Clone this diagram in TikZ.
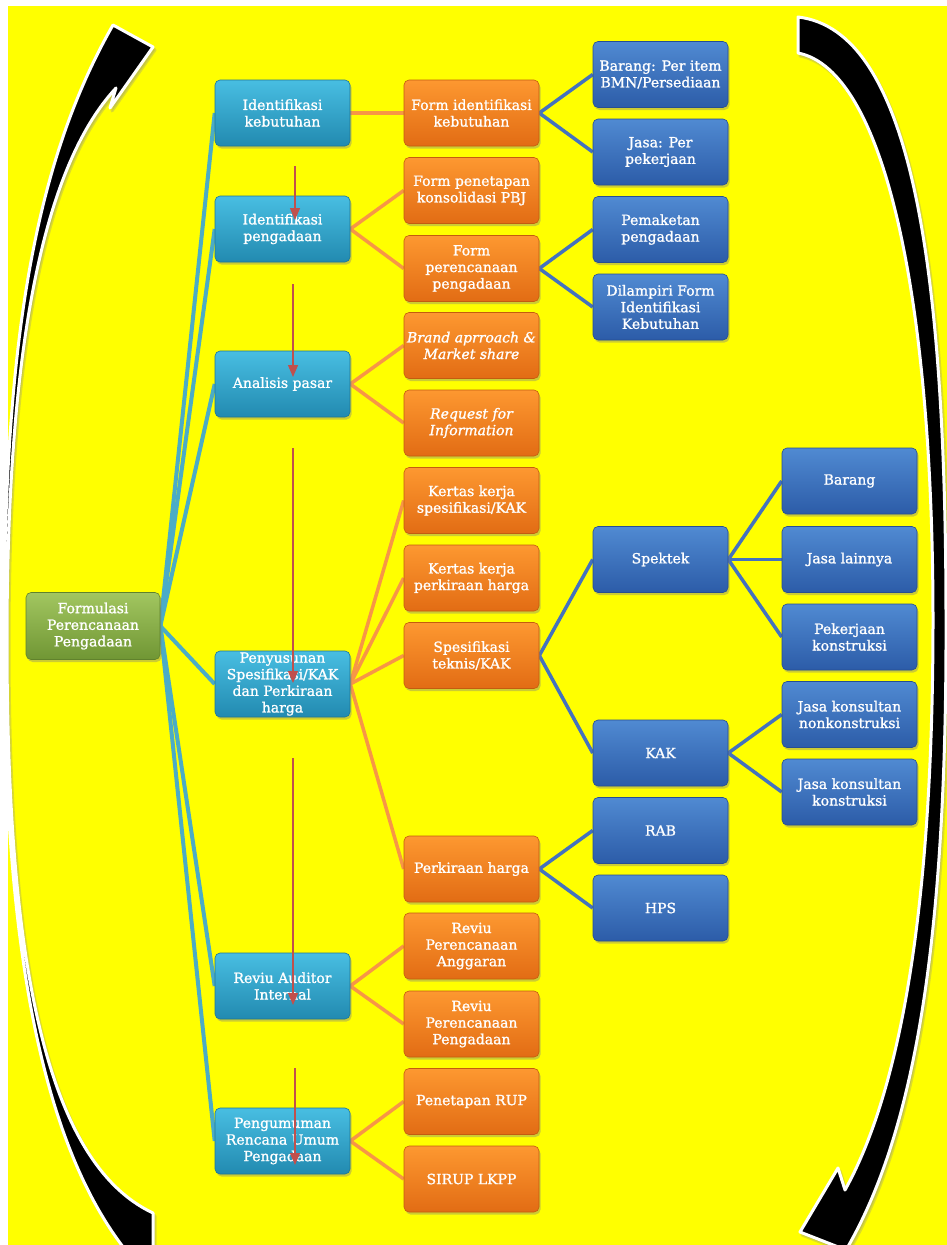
\documentclass[tikz,border=0pt]{standalone}
\usepackage{fontspec}
\setmainfont{DejaVu Serif}
\newfontfamily\boxfont[FakeBold=1.2]{DejaVu Serif}
\usetikzlibrary{shadows,arrows.meta}
\pgfdeclarelayer{background}
\pgfsetlayers{background,main}
\definecolor{ylw}{RGB}{255,255,0}
\definecolor{cyTop}{RGB}{72,190,226}
\definecolor{cyBot}{RGB}{34,138,176}
\definecolor{cyEdge}{RGB}{30,118,150}
\definecolor{orTop}{RGB}{253,152,48}
\definecolor{orBot}{RGB}{226,108,20}
\definecolor{orEdge}{RGB}{196,92,14}
\definecolor{blTop}{RGB}{80,138,210}
\definecolor{blBot}{RGB}{44,92,168}
\definecolor{blEdge}{RGB}{38,78,146}
\definecolor{grTop}{RGB}{162,198,96}
\definecolor{grBot}{RGB}{112,150,52}
\definecolor{grEdge}{RGB}{96,130,44}
\definecolor{cyLine}{RGB}{75,172,198}
\definecolor{orLine}{RGB}{247,150,70}
\definecolor{blLine}{RGB}{68,114,190}
\definecolor{redArr}{RGB}{192,80,77}
\tikzset{
  box/.style={rounded corners=5pt, minimum width=135pt, minimum height=66pt,
    inner sep=0pt, align=center, text=white, line width=0.6pt,
    font=\boxfont\fontsize{14}{16.6}\selectfont,
    drop shadow={shadow xshift=1.5pt, shadow yshift=-2.5pt, opacity=0.4}},
  cbox/.style={box, top color=cyTop, bottom color=cyBot, draw=cyEdge},
  obox/.style={box, top color=orTop, bottom color=orBot, draw=orEdge},
  bbox/.style={box, top color=blTop, bottom color=blBot, draw=blEdge},
  gbox/.style={box, top color=grTop, bottom color=grBot, draw=grEdge, minimum width=134pt, minimum height=67pt},
  cline/.style={draw=cyLine, line width=4pt},
  oline/.style={draw=orLine, line width=3.5pt},
  bline/.style={draw=blLine, line width=3.5pt},
  redarrow/.style={draw=redArr, line width=1.3pt, -{Triangle[length=12pt,width=10pt]}},
  bigarrow/.style={fill=black, draw=white, line width=3pt, line join=round},
  bigshadow/.style={fill=black!45, opacity=0.3, draw=black!45, line width=3pt, line join=round}
}
\def\leftarrowpath{(127,1252) .. controls (30,1130) and (4,900) .. (4,640)
  .. controls (4,360) and (30,170) .. (113,25)
  -- (153,47) -- (110,108) -- (116,88)
  .. controls (40,170) and (7,360) .. (7,640)
  .. controls (7,940) and (40,1160) .. (153,1213)
  -- (153,1252) -- cycle}
\def\rightarrowpath{(798,17) .. controls (910,30) and (946,260) .. (946,620)
  .. controls (947,960) and (910,1140) .. (846,1250)
  -- (800,1232) -- (838,1168) -- (845,1190)
  .. controls (895,1100) and (933,930) .. (933,620)
  .. controls (933,300) and (885,70) .. (798,53)
  -- cycle}
\begin{document}
\begin{tikzpicture}[x=1pt,y=-1pt]
\useasboundingbox (0,0) rectangle (947,1245);
\begin{pgfonlayer}{background}
  \fill[white] (0,0) rectangle (947,1245);
  \fill[ylw] (8,6) rectangle (947,1245);
  \begin{scope}[shift={(2,3)}]
    \path[bigshadow] \leftarrowpath;
    \path[bigshadow] \rightarrowpath;
  \end{scope}
  \path[bigarrow] \leftarrowpath;
  \path[bigarrow] \rightarrowpath;
\end{pgfonlayer}

% level 0
\node[gbox] (F) at (93,626) {Formulasi\\Perencanaan\\Pengadaan};
% level 1
\node[cbox] (c1) at (282.5,113) {Identifikasi\\kebutuhan};
\node[cbox] (c2) at (282.5,229) {Identifikasi\\pengadaan};
\node[cbox] (c3) at (282.5,384) {Analisis pasar};
\node[cbox] (c4) at (282.5,684) {Penyusunan\\Spesifikasi/KAK\\dan Perkiraan\\harga};
\node[cbox] (c5) at (282.5,986) {Reviu Auditor\\Internal};
\node[cbox] (c6) at (282.5,1141) {Pengumuman\\Rencana Umum\\Pengadaan};
% level 2
\node[obox] (o1) at (471.5,113) {Form identifikasi\\kebutuhan};
\node[obox] (o2) at (471.5,190.5) {Form penetapan\\konsolidasi PBJ};
\node[obox] (o3) at (471.5,268.5) {Form\\perencanaan\\pengadaan};
\node[obox] (o4) at (471.5,345.5) {\itshape Brand aprroach \&\\\itshape Market share};
\node[obox] (o5) at (471.5,423) {\itshape Request for\\\itshape Information};
\node[obox] (o6) at (471.5,500.5) {Kertas kerja\\spesifikasi/KAK};
\node[obox] (o7) at (471.5,578) {Kertas kerja\\perkiraan harga};
\node[obox] (o8) at (471.5,655.5) {Spesifikasi\\teknis/KAK};
\node[obox] (o9) at (471.5,869) {Perkiraan harga};
\node[obox] (o10) at (471.5,946) {Reviu\\Perencanaan\\Anggaran};
\node[obox] (o11) at (471.5,1024) {Reviu\\Perencanaan\\Pengadaan};
\node[obox] (o12) at (471.5,1101.5) {Penetapan RUP};
\node[obox] (o13) at (471.5,1179) {SIRUP LKPP};
% level 3
\node[bbox] (b1) at (660.5,74.5) {Barang: Per item\\BMN/Persediaan};
\node[bbox] (b2) at (660.5,152) {Jasa: Per\\pekerjaan};
\node[bbox] (b3) at (660.5,229.5) {Pemaketan\\pengadaan};
\node[bbox] (b4) at (660.5,307) {Dilampiri Form\\Identifikasi\\Kebutuhan};
\node[bbox] (b5) at (660.5,559.5) {Spektek};
\node[bbox] (b6) at (660.5,753) {KAK};
\node[bbox] (b7) at (660.5,830.5) {RAB};
\node[bbox] (b8) at (660.5,908) {HPS};
% level 4
\node[bbox] (d1) at (849.5,481) {Barang};
\node[bbox] (d2) at (849.5,559.5) {Jasa lainnya};
\node[bbox] (d3) at (849.5,637) {Pekerjaan\\konstruksi};
\node[bbox] (d4) at (849.5,714.5) {Jasa konsultan\\nonkonstruksi};
\node[bbox] (d5) at (849.5,792) {Jasa konsultan\\konstruksi};

\begin{pgfonlayer}{background}
  \foreach \n in {c1,c2,c3,c4,c5,c6} \draw[cline] (F.east) -- (\n.west);
  \draw[oline] (c1.east) -- (o1.west);
  \draw[oline] (c2.east) -- (o2.west);
  \draw[oline] (c2.east) -- (o3.west);
  \draw[oline] (c3.east) -- (o4.west);
  \draw[oline] (c3.east) -- (o5.west);
  \foreach \n in {o6,o7,o8,o9} \draw[oline] (c4.east) -- (\n.west);
  \draw[oline] (c5.east) -- (o10.west);
  \draw[oline] (c5.east) -- (o11.west);
  \draw[oline] (c6.east) -- (o12.west);
  \draw[oline] (c6.east) -- (o13.west);
  \draw[bline] (o1.east) -- (b1.west);
  \draw[bline] (o1.east) -- (b2.west);
  \draw[bline] (o3.east) -- (b3.west);
  \draw[bline] (o3.east) -- (b4.west);
  \draw[bline] (o8.east) -- (b5.west);
  \draw[bline] (o8.east) -- (b6.west);
  \draw[bline] (o9.east) -- (b7.west);
  \draw[bline] (o9.east) -- (b8.west);
  \foreach \n in {d1,d2,d3} \draw[bline] (b5.east) -- (\n.west);
  \draw[bline] (b6.east) -- (d4.west);
  \draw[bline] (b6.east) -- (d5.west);
\end{pgfonlayer}

% red arrows
\coordinate (r1a) at (295,166);  \coordinate (r1b) at (295,220);
\coordinate (r2a) at (293,284);  \coordinate (r2b) at (293,377);
\coordinate (r3a) at (293,448);  \coordinate (r3b) at (293,683);
\coordinate (r4a) at (293,758);  \coordinate (r4b) at (293,1005);
\coordinate (r5a) at (295,1068); \coordinate (r5b) at (295,1165);
\draw[redarrow] (r1a) -- (r1b);
\draw[redarrow] (r2a) -- (r2b);
\draw[redarrow] (r3a) -- (r3b);
\draw[redarrow] (r4a) -- (r4b);
\draw[redarrow] (r5a) -- (r5b);
\end{tikzpicture}
\end{document}
